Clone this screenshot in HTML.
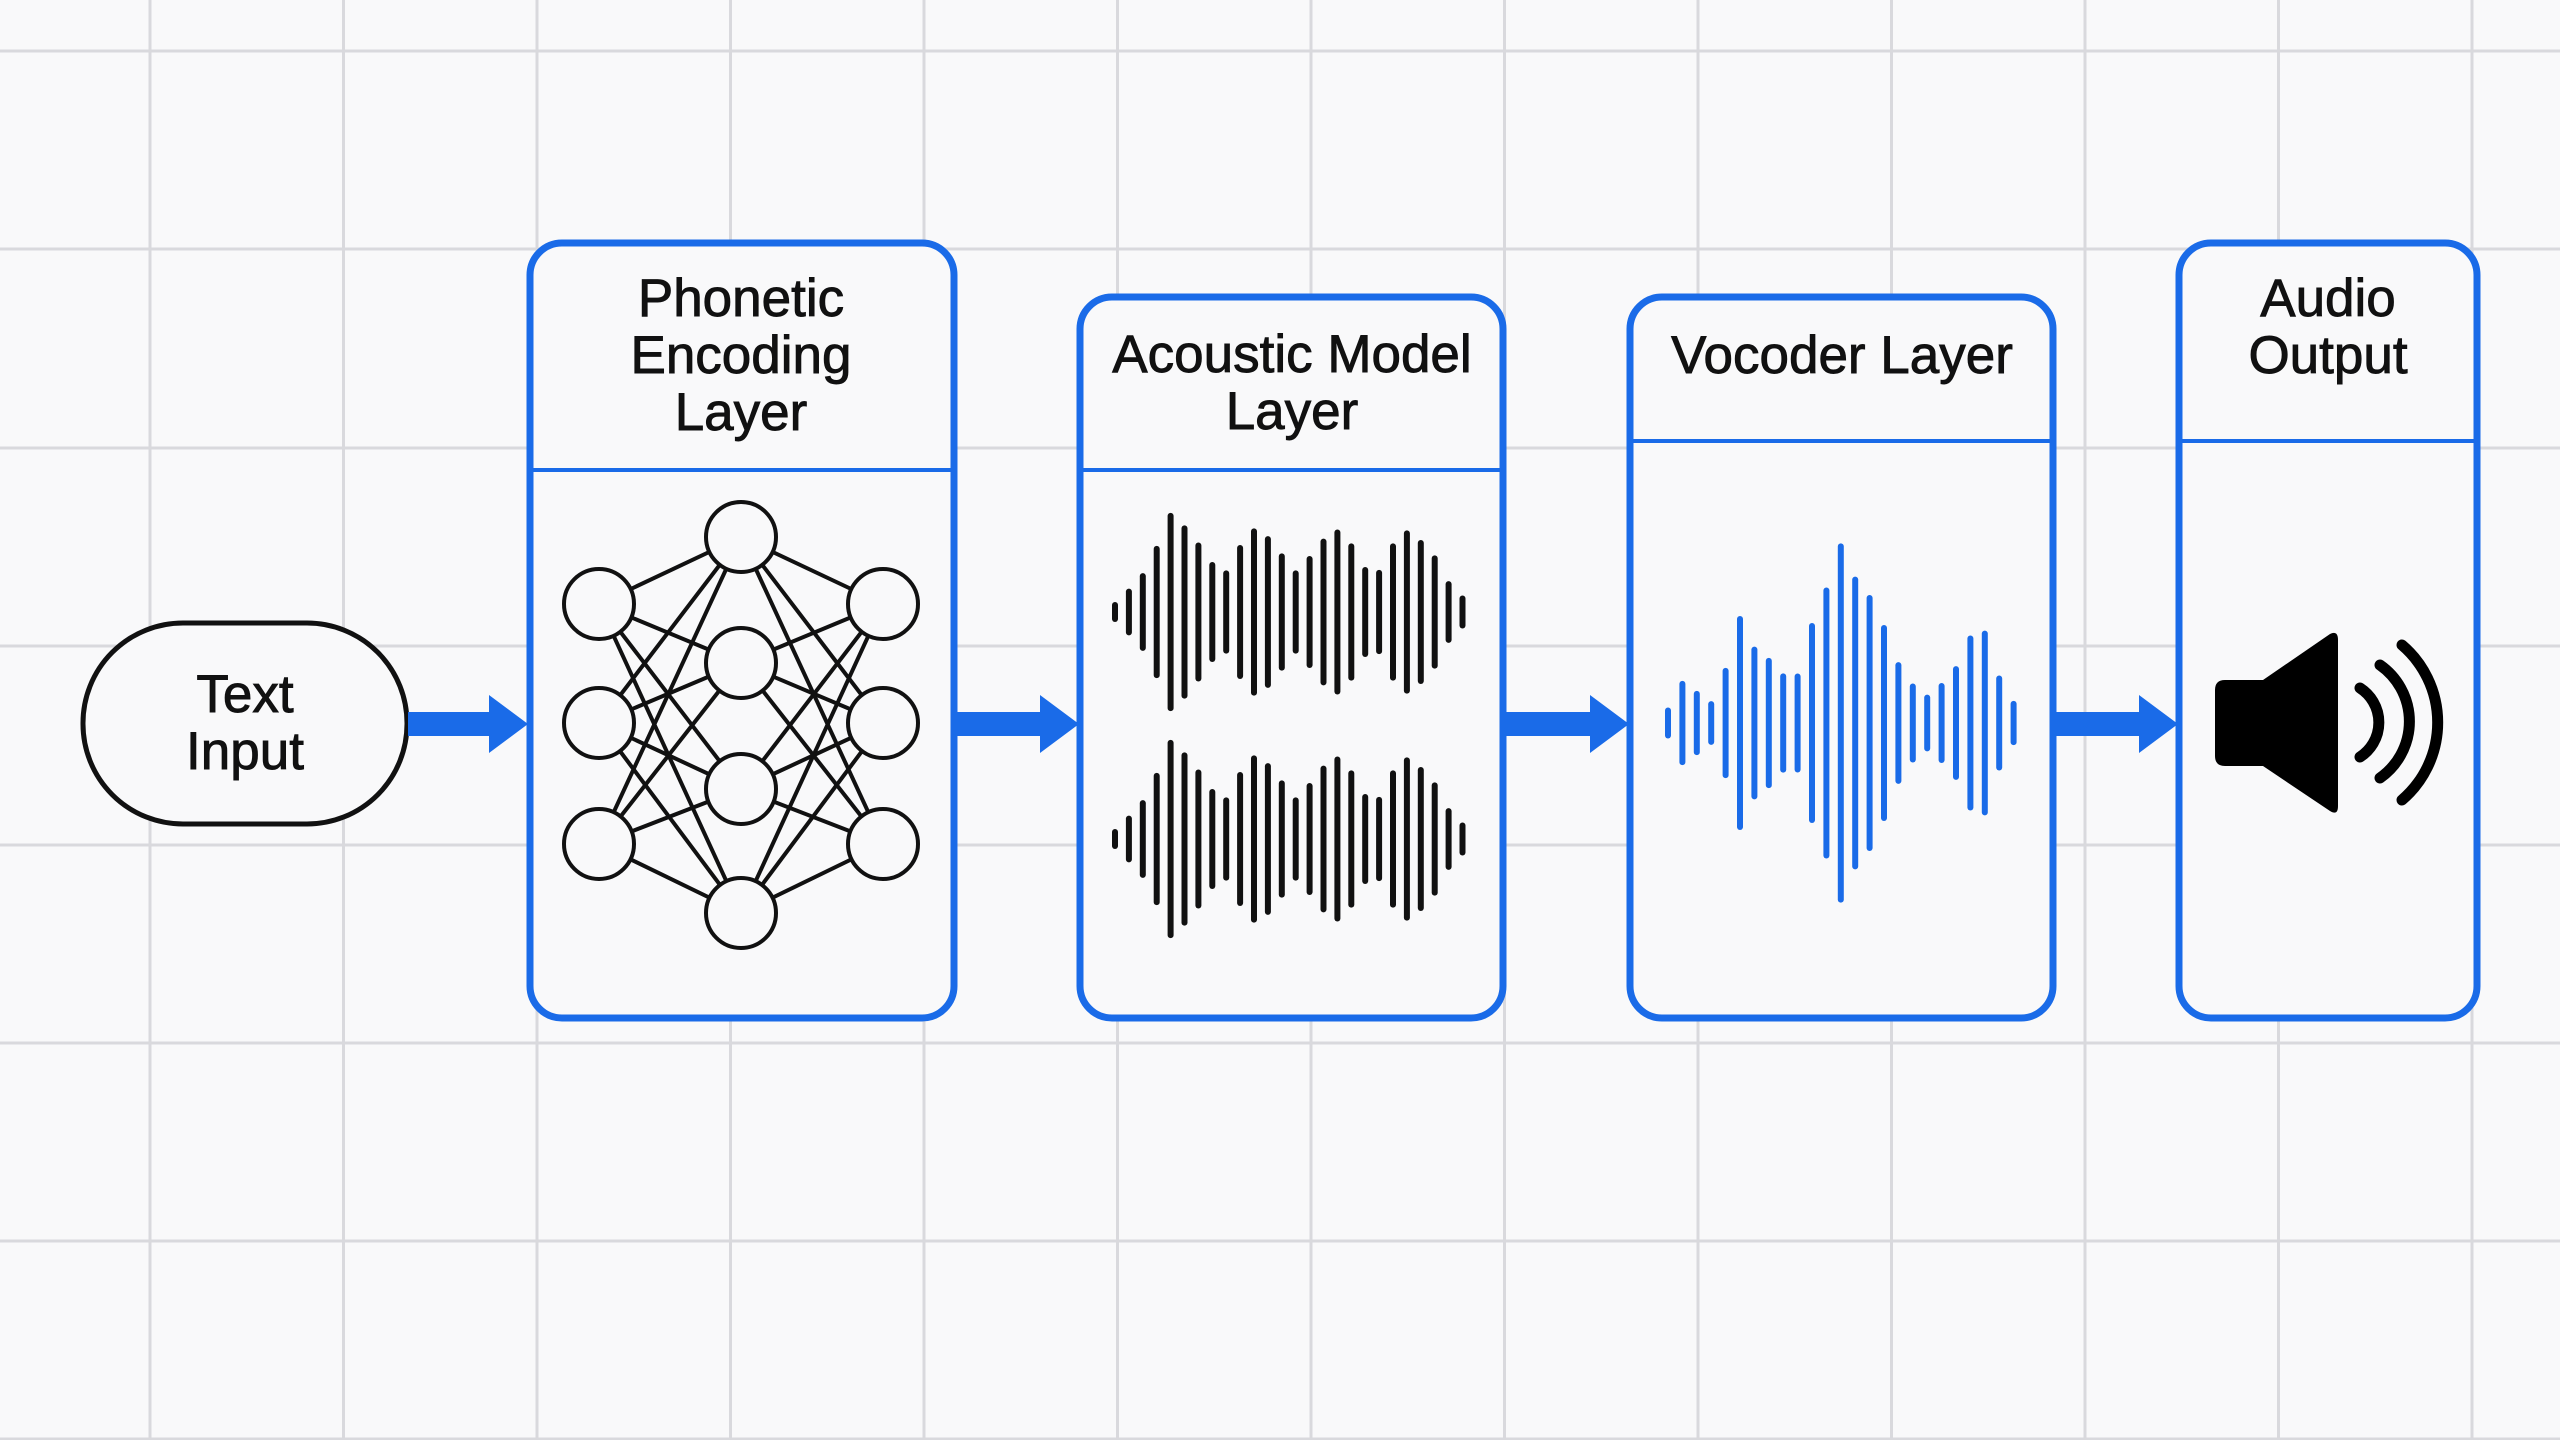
<!DOCTYPE html>
<html><head><meta charset="utf-8"><style>
html,body{margin:0;padding:0;background:#f9f9fa;}
svg{display:block}
text{font-family:"Liberation Sans",sans-serif;font-size:53px;fill:#111;stroke:#111;stroke-width:0.9;text-anchor:middle}
</style></head><body>
<svg width="2560" height="1440" viewBox="0 0 2560 1440" xmlns="http://www.w3.org/2000/svg">
<rect width="2560" height="1440" fill="#f9f9fa"/>
<g stroke="#d9d9dd" stroke-width="3">
<line x1="150" y1="0" x2="150" y2="1440"/><line x1="343.5" y1="0" x2="343.5" y2="1440"/><line x1="537" y1="0" x2="537" y2="1440"/><line x1="730.5" y1="0" x2="730.5" y2="1440"/><line x1="924" y1="0" x2="924" y2="1440"/><line x1="1117.5" y1="0" x2="1117.5" y2="1440"/><line x1="1311" y1="0" x2="1311" y2="1440"/><line x1="1504.5" y1="0" x2="1504.5" y2="1440"/><line x1="1698" y1="0" x2="1698" y2="1440"/><line x1="1891.5" y1="0" x2="1891.5" y2="1440"/><line x1="2085" y1="0" x2="2085" y2="1440"/><line x1="2278.5" y1="0" x2="2278.5" y2="1440"/><line x1="2472" y1="0" x2="2472" y2="1440"/>
<line x1="0" y1="51" x2="2560" y2="51"/><line x1="0" y1="249" x2="2560" y2="249"/><line x1="0" y1="448" x2="2560" y2="448"/><line x1="0" y1="646" x2="2560" y2="646"/><line x1="0" y1="845" x2="2560" y2="845"/><line x1="0" y1="1043" x2="2560" y2="1043"/><line x1="0" y1="1241" x2="2560" y2="1241"/><line x1="0" y1="1439" x2="2560" y2="1439"/>
</g>
<g fill="#f9f9fa" stroke="#1a6be8" stroke-width="7">
<rect x="530" y="243" width="424" height="775" rx="32"/>
<rect x="1080" y="297" width="423" height="721" rx="32"/>
<rect x="1630" y="297" width="423" height="721" rx="32"/>
<rect x="2179" y="243" width="298" height="775" rx="32"/>
</g>
<g stroke="#1a6be8" stroke-width="4">
<line x1="533" y1="470" x2="951" y2="470"/>
<line x1="1083" y1="470" x2="1500" y2="470"/>
<line x1="1633" y1="441" x2="2050" y2="441"/>
<line x1="2182" y1="441" x2="2474" y2="441"/>
</g>
<rect x="83" y="623" width="324" height="201" rx="100" fill="#f9f9fa" stroke="#111" stroke-width="5"/>
<text x="245" y="712">Text</text><text x="245" y="769">Input</text>
<text x="741" y="316">Phonetic</text><text x="741" y="373">Encoding</text><text x="741" y="430">Layer</text>
<text x="1292" y="372">Acoustic Model</text><text x="1292" y="429">Layer</text>
<text x="1842" y="373">Vocoder Layer</text>
<text x="2328" y="316">Audio</text><text x="2328" y="373">Output</text>
<g fill="#1a6be8">
<path d="M408 712 H489 V695 L528 724 L489 753 V736 H408 Z"/>
<path d="M957 712 H1040 V695 L1079 724 L1040 753 V736 H957 Z"/>
<path d="M1506 712 H1590 V695 L1629 724 L1590 753 V736 H1506 Z"/>
<path d="M2056 712 H2139 V695 L2178 724 L2139 753 V736 H2056 Z"/>
</g>
<g stroke="#111" stroke-width="4" id="nn"></g>
<g id="w1" stroke="#111" stroke-width="6" stroke-linecap="round"></g>
<g id="w2" stroke="#1a6be8" stroke-width="6" stroke-linecap="round"></g>
<path d="M2225 680 H2263 L2330 634 Q2338 630 2338 640 V806 Q2338 816 2330 811 L2263 766 H2225 Q2215 766 2215 756 V690 Q2215 680 2225 680 Z" fill="#000"/>
<g fill="none" stroke="#000" stroke-width="11" stroke-linecap="round">
<path d="M2360 688 A41 41 0 0 1 2360 757"/>
<path d="M2380 665 A69 69 0 0 1 2380 778"/>
<path d="M2402 645 A102 102 0 0 1 2402 800"/>
</g>
<script>
var NS="http://www.w3.org/2000/svg";
function el(p,t,a){var e=document.createElementNS(NS,t);for(var k in a)e.setAttribute(k,a[k]);p.appendChild(e);return e;}
var nn=document.getElementById('nn');
var L=[[599,604],[599,723],[599,844]],M=[[741,537],[741,663],[741,789],[741,913]],R=[[883,604],[883,723],[883,844]];
L.forEach(function(a){M.forEach(function(b){el(nn,'line',{x1:a[0],y1:a[1],x2:b[0],y2:b[1]});});});
R.forEach(function(a){M.forEach(function(b){el(nn,'line',{x1:a[0],y1:a[1],x2:b[0],y2:b[1]});});});
L.concat(M,R).forEach(function(c){el(nn,'circle',{cx:c[0],cy:c[1],r:35,fill:'#f9f9fa'});});
var h1=[60,140,233,397,595,520,417,300,250,402,502,455,352,250,336,440,495,412,270,253,412,490,432,340,185,99];
var w1=document.getElementById('w1');
h1.forEach(function(h,i){var x=1115+i*13.9,hh=h/3-6;[612,839].forEach(function(cy){el(w1,'line',{x1:x,y1:cy-hh/2,x2:x,y2:cy+hh/2});});});
var h2=[90,250,190,128,328,639,455,388,295,294,597,810,1075,875,765,585,362,234,167,237,338,522,551,282,130];
var w2=document.getElementById('w2');
h2.forEach(function(h,i){var x=1668+i*14.4,hh=h/3-5;el(w2,'line',{x1:x,y1:723-hh/2,x2:x,y2:723+hh/2});});
</script>
</svg>
</body></html>
